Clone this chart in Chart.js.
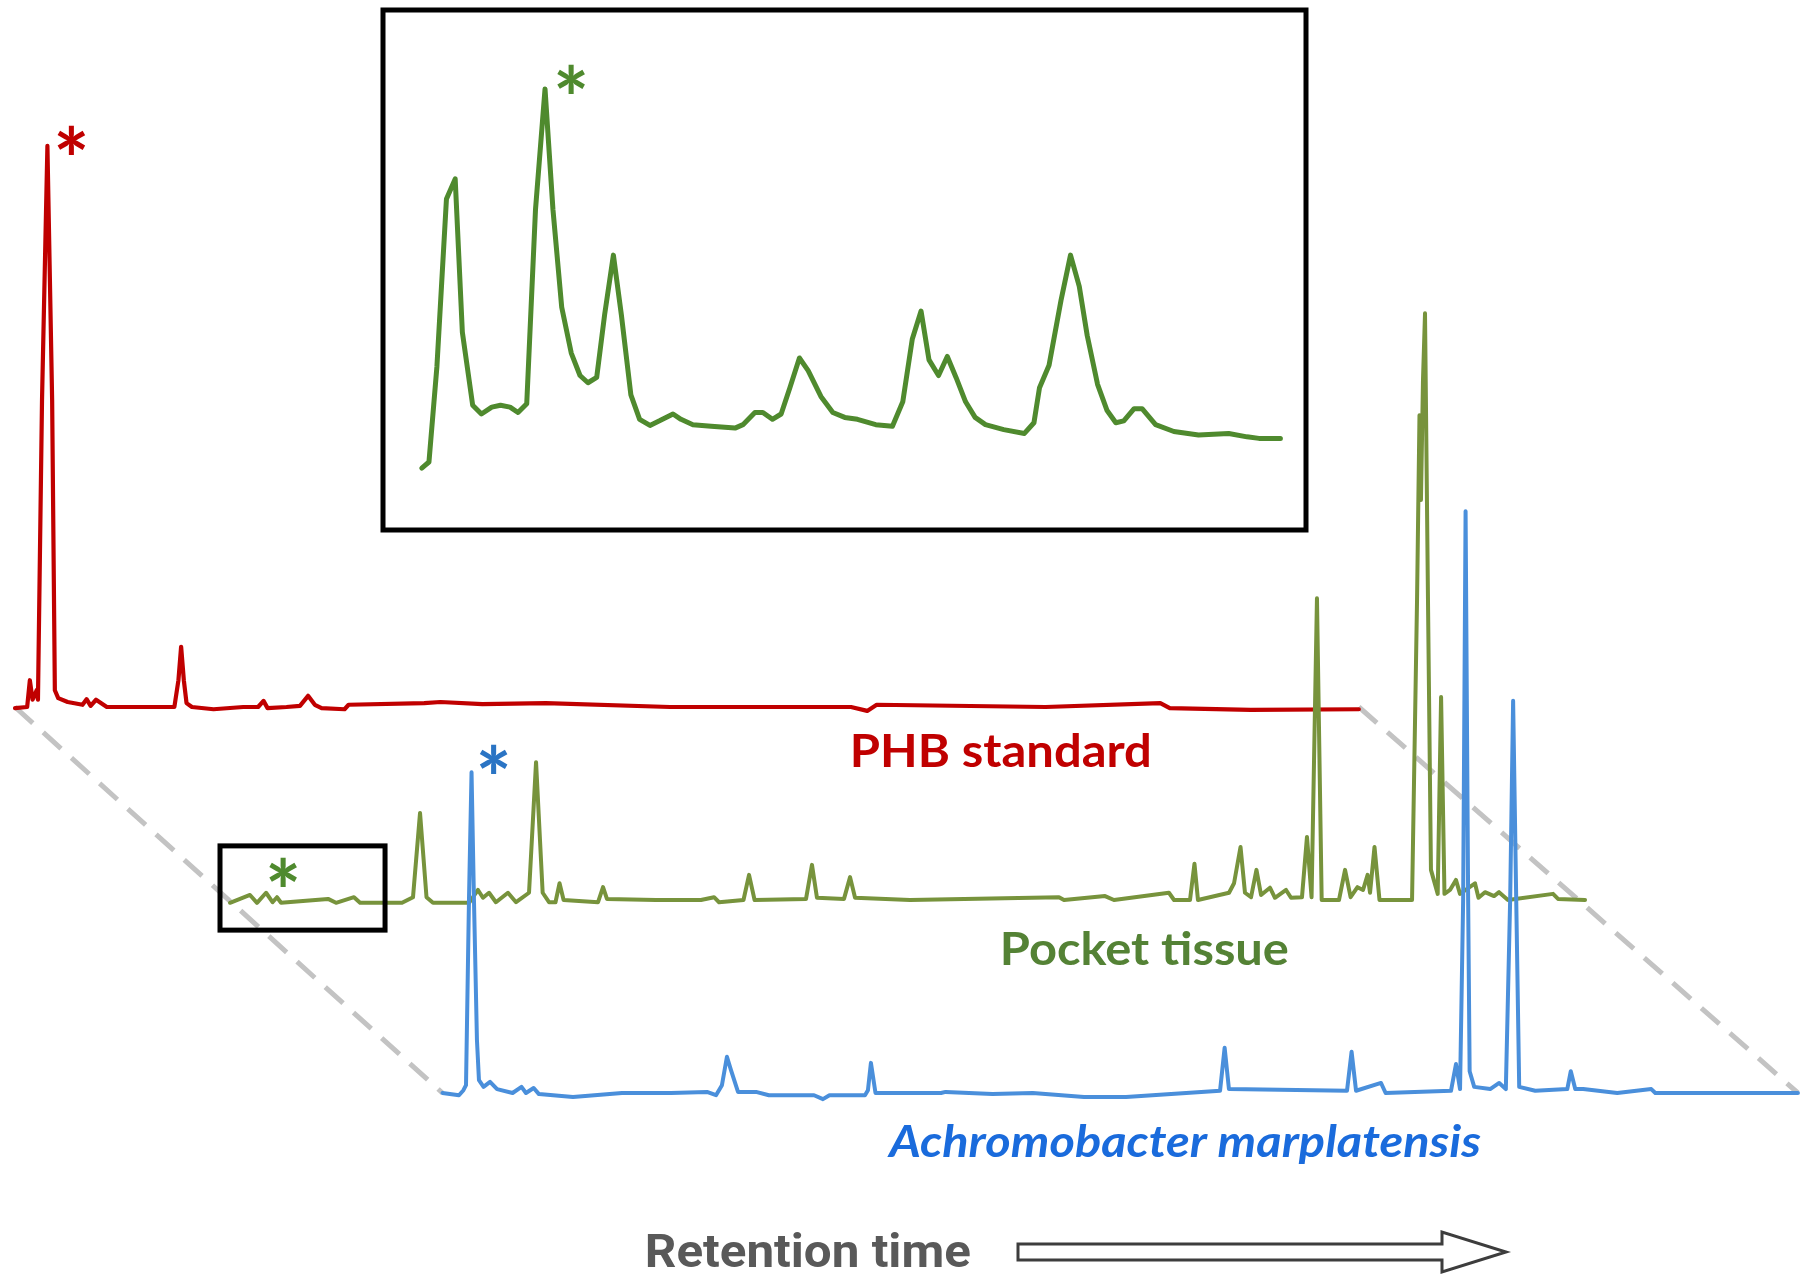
<!DOCTYPE html>
<html>
<head>
<meta charset="utf-8">
<script src="https://cdn.jsdelivr.net/npm/chart.js@4.4.1/dist/chart.umd.min.js"></script>
<style>
    html, body { margin: 0; padding: 0; background: #fff; overflow: hidden; }
    canvas { display: block; }
</style>
</head>
<body>
<canvas id="chromatogram" width="1807" height="1283"></canvas>
<script>
// retention time (arbitrary units, 0-100) and relative signal (largest PHB peak ~ 100)
const PHB_TIME = [0, 0.9, 1.1, 1.3, 1.6, 1.7, 2.0, 2.4, 2.75, 2.95, 3.2, 3.9, 5.0, 5.3, 5.6, 6.0, 6.8,
    11.8, 12.1, 12.3, 12.5, 12.7, 13.1, 14.7, 16.9, 18.0, 18.4, 18.7, 20.1, 21.1, 21.7, 22.2, 22.7,
    24.4, 24.7, 30.3, 31.5, 34.6, 39.3, 48.5, 61.9, 63.1, 63.8, 76.3, 84.8, 85.5, 91.5, 99.5];
const PHB_SIGNAL = [-0.2, 0, 4.8, 1.3, 3.0, 1.3, 55.0, 100.6, 55.0, 3.0, 1.6, 0.9, 0.4, 1.4, 0.2, 1.3, 0,
    0, 4.8, 10.8, 4.8, 0.7, 0, -0.4, 0, 0, 1.1, -0.2, 0, 0.2, 2.0, 0.4, -0.2,
    -0.4, 0.4, 0.7, 0.9, 0.5, 0.7, 0, 0, -0.7, 0.4, 0, 0.7, -0.2, -0.5, -0.4];

const POCKET_TIME = [0, 1.48, 2.0, 2.67, 3.15, 3.48, 3.78, 7.26, 7.85, 9.18,
    9.63, 12.74, 13.55, 14.07, 14.55, 15.03, 17.7, 18.36, 18.73, 19.18,
    19.69, 20.58, 21.18, 22.14, 22.66, 23.15, 23.62, 24.1, 24.4, 24.7,
    27.25, 27.62, 27.91, 31.54, 34.87, 35.84, 36.21, 38.02, 38.43, 38.84,
    42.65, 43.09, 43.46, 45.46, 45.91, 46.28, 50.35, 61.38, 61.75, 64.79,
    65.45, 69.52, 69.9, 71.08, 71.41, 71.67, 73.97, 74.34, 74.82, 75.15,
    75.6, 76.0, 76.34, 77.0, 77.37, 78.19, 78.56, 79.37, 79.74, 80.08,
    80.48, 80.83, 82.11, 82.56, 82.97, 83.48, 83.89, 84.23, 84.41, 84.74,
    85.11, 87.52, 87.89, 88.07, 88.18, 88.33, 88.48, 88.7, 88.92, 89.42,
    89.67, 89.92, 90.33, 90.77, 91.07, 92.18, 92.44, 92.92, 93.59, 93.96,
    94.62, 97.96, 98.33, 100.33];
const POCKET_SIGNAL = [-0.5, 0.9, -0.5, 1.3, -0.4, 0.5, -0.5, 0.2, -0.5, 0.5,
    -0.5, -0.5, 0.5, 15.6, 0.5, -0.5, -0.5, 1.8, 0.4, 1.3,
    -0.4, 1.3, -0.4, 1.3, 24.7, 1.3, -0.4, -0.4, 3.0, 0,
    -0.4, 2.3, 0.2, 0, 0, 0.5, -0.4, 0, 4.5, 0,
    0.2, 6.3, 0.4, 0.2, 4.1, 0.4, 0, 0.5, 0, 0.7,
    0, 1.3, 0, 0, 6.5, 0, 1.3, 3.0, 9.5, 1.3,
    0.5, 5.4, 0.9, 2.2, 0.4, 1.8, 0.4, 0.5, 11.3, 0.5,
    54.1, 0, 0, 5.4, 0.5, 2.3, 1.8, 4.5, 1.3, 9.5,
    0, 0, 53.8, 86.9, 71.7, 93.2, 105.2, 53.8, 5.4, 1.1,
    36.4, 1.1, 1.8, 3.6, 1.1, 3.0, 0.4, 1.4, 0.7, 1.4,
    0, 1.1, 0.2, 0];

const ACHROMO_TIME = [0, 1.22, 1.55, 1.74, 1.96, 2.15, 2.33, 2.55, 2.70, 3.04,
    3.52, 4.04, 5.19, 5.85, 6.18, 6.75, 7.14, 9.66, 13.29, 16.92,
    19.58, 20.25, 20.69, 21.06, 21.36, 21.88, 23.21, 24.17, 27.51, 28.17,
    28.65, 31.28, 31.5, 31.72, 32.06, 36.91, 37.25, 40.72, 43.7, 47.5,
    50.61, 57.57, 57.91, 58.23, 66.97, 67.31, 67.64, 69.49, 69.83, 74.67,
    75.04, 75.34, 75.57, 75.75, 75.94, 76.05, 76.39, 77.57, 78.24, 78.73,
    79.05, 79.27, 79.5, 79.72, 80.91, 83.28, 83.54, 83.87, 84.46, 86.98,
    89.5, 89.8, 100.36];
const ACHROMO_SIGNAL = [0, -0.4, 0.5, 1.4, 34.6, 57.5, 34.6, 9.5, 2.3, 1.1,
    2.0, 0.7, 0, 1.1, 0, 0.9, -0.2, -0.7, 0, 0,
    0.2, -0.4, 1.4, 6.5, 4.1, 0.2, 0.2, -0.4, -0.4, -1.1,
    -0.4, -0.4, 0.5, 5.4, 0, 0, 0.2, -0.2, 0, -0.7,
    -0.7, 0.4, 8.1, 0.7, 0.4, 7.4, 0.4, 1.8, 0, 0.4,
    5.2, 0.7, 34.6, 104.3, 34.6, 3.9, 1.1, 0.7, 1.8, 0.7,
    34.6, 70.3, 34.6, 1.1, 0.4, 0.7, 3.9, 0.7, 0.7, 0,
    0.7, 0, 0];

// enlarged start of the pocket tissue run (inset)
const INSET_TIME = [0, 0.09, 0.19, 0.31, 0.42, 0.51, 0.64, 0.75, 0.88, 0.99,
    1.11, 1.21, 1.32, 1.43, 1.55, 1.65, 1.76, 1.88, 1.99, 2.09,
    2.20, 2.30, 2.41, 2.51, 2.63, 2.74, 2.87, 2.99, 3.16, 3.26,
    3.41, 3.64, 3.94, 4.04, 4.19, 4.29, 4.41, 4.52, 4.63, 4.75,
    4.86, 5.02, 5.17, 5.32, 5.48, 5.71, 5.92, 6.05, 6.17, 6.28,
    6.38, 6.50, 6.61, 6.72, 6.84, 6.96, 7.09, 7.32, 7.58, 7.70,
    7.77, 7.89, 8.04, 8.16, 8.27, 8.37, 8.50, 8.62, 8.73, 8.83,
    8.96, 9.06, 9.23, 9.46, 9.77, 10.15, 10.38, 10.53, 10.80];
const INSET_SIGNAL = [0.5, 2.1, 27.1, 71.1, 76.4, 36.2, 17.0, 14.7, 16.5, 17.0,
    16.5, 15.1, 17.4, 68.3, 100, 68.3, 42.7, 30.7, 24.8, 22.9,
    24.3, 40.8, 56.4, 40.8, 19.7, 13.3, 11.7, 12.9, 14.7, 13.3,
    11.9, 11.5, 11.0, 11.9, 15.1, 15.1, 13.3, 14.7, 21.6, 29.4,
    26.1, 19.3, 15.1, 13.8, 13.3, 11.9, 11.5, 17.9, 34.4, 41.7,
    28.9, 24.8, 29.8, 24.3, 17.9, 13.8, 11.9, 10.6, 9.6, 12.4,
    21.6, 27.5, 44.5, 56.4, 48.2, 35.3, 22.5, 15.6, 12.4, 12.9,
    16.1, 16.1, 11.9, 10.1, 9.2, 9.6, 8.7, 8.3, 8.3];

const TRACE_LABELS = ['PHB standard', 'Pocket tissue', 'Achromobacter marplatensis'];
const AXIS_TITLE = 'Retention time';

// ---- layout (canvas pixels) ----
const W = 1807, H = 1283;
const PX_PER_TIME = 13.506, PX_PER_SIGNAL = 5.578;
const ORIGIN = { phb: [15, 707], pocket: [230, 900], achromo: [442.5, 1093], inset: [421.8, 470] };
const INSET_PX = [79.5, 3.81];
const INSET_BOX = { left: 383, top: 10, right: 1306, bottom: 530 };
const ZOOM_BOX = { t0: -0.74, t1: 11.48, v0: -5.4, v1: 9.7 };

const RED = '#c00000', OLIVE = '#77933c', DARK_GREEN = '#4f8a2e', BLUE = '#4a8fdb';

function xAxis(origin, ppu) {
    return { type: 'linear', display: false, min: -origin / ppu, max: (W - origin) / ppu };
}
function yAxis(origin, ppu) {
    return { type: 'linear', display: false, max: origin / ppu, min: (origin - H) / ppu };
}
function points(times, values) {
    return times.map((t, i) => ({ x: t, y: values[i] }));
}

function fitText(ctx, text, left, baseline, width, cap, font, color) {
    ctx.font = font.replace('SIZE', '100px');
    const size = 100 * cap / ctx.measureText('H').actualBoundingBoxAscent;
    ctx.font = font.replace('SIZE', size.toFixed(2) + 'px');
    const m = ctx.measureText(text);
    const w = m.actualBoundingBoxLeft + m.actualBoundingBoxRight;
    ctx.save();
    ctx.fillStyle = color;
    ctx.textBaseline = 'alphabetic';
    ctx.translate(left, baseline);
    ctx.scale(width / w, 1);
    ctx.fillText(text, m.actualBoundingBoxLeft, 0);
    ctx.restore();
}

function star(ctx, cx, cy, color) {
    ctx.save();
    ctx.font = 'bold 100px Lato';
    const m = ctx.measureText('*');
    const gh = m.actualBoundingBoxAscent + m.actualBoundingBoxDescent;
    const size = 100 * 29 / gh;
    ctx.font = 'bold ' + size.toFixed(2) + 'px Lato';
    const k = ctx.measureText('*');
    ctx.fillStyle = color;
    ctx.textAlign = 'center';
    ctx.textBaseline = 'alphabetic';
    ctx.fillText('*', cx, cy + (k.actualBoundingBoxAscent - k.actualBoundingBoxDescent) / 2);
    ctx.restore();
}

function peakPixel(chart, times, values, xId, yId, from, to) {
    let best = -1;
    times.forEach((t, i) => {
        if (t >= from && t <= to && (best < 0 || values[i] > values[best])) best = i;
    });
    return [chart.scales[xId].getPixelForValue(times[best]), chart.scales[yId].getPixelForValue(values[best])];
}

const decorations = {
    id: 'decorations',
    beforeDatasetsDraw(chart) {
        const ctx = chart.ctx, s = chart.scales;
        const px = (xId, yId, t, v) => [s[xId].getPixelForValue(t), s[yId].getPixelForValue(v)];
        const last = a => a[a.length - 1];
        const guides = [
            [px('xPhb', 'yPhb', PHB_TIME[0], 0), px('xAchromo', 'yAchromo', ACHROMO_TIME[0], 0)],
            [px('xPhb', 'yPhb', last(PHB_TIME), 0), px('xAchromo', 'yAchromo', last(ACHROMO_TIME), 0)]
        ];
        ctx.save();
        ctx.strokeStyle = '#c3c3c3';
        ctx.lineWidth = 5;
        ctx.setLineDash([24, 14]);
        guides.forEach(([a, b]) => {
            ctx.beginPath();
            ctx.moveTo(a[0], a[1]);
            ctx.lineTo(b[0], b[1]);
            ctx.stroke();
        });
        ctx.restore();
    },
    afterDatasetsDraw(chart) {
        const ctx = chart.ctx, s = chart.scales;

        // boxes
        ctx.save();
        ctx.strokeStyle = '#000';
        ctx.lineWidth = 5;
        ctx.strokeRect(INSET_BOX.left, INSET_BOX.top, INSET_BOX.right - INSET_BOX.left, INSET_BOX.bottom - INSET_BOX.top);
        const zx0 = s.xPocket.getPixelForValue(ZOOM_BOX.t0), zx1 = s.xPocket.getPixelForValue(ZOOM_BOX.t1);
        const zy0 = s.yPocket.getPixelForValue(ZOOM_BOX.v1), zy1 = s.yPocket.getPixelForValue(ZOOM_BOX.v0);
        ctx.strokeRect(zx0, zy0, zx1 - zx0, zy1 - zy0);
        ctx.restore();

        // PHB markers
        let p = peakPixel(chart, PHB_TIME, PHB_SIGNAL, 'xPhb', 'yPhb', 0, 5);
        star(ctx, p[0] + 24, p[1] - 6, RED);
        p = peakPixel(chart, ACHROMO_TIME, ACHROMO_SIGNAL, 'xAchromo', 'yAchromo', 0, 5);
        star(ctx, p[0] + 22, p[1] - 13, '#2a74c4');
        p = peakPixel(chart, POCKET_TIME, POCKET_SIGNAL, 'xPocket', 'yPocket', 0, 5);
        star(ctx, p[0] + 17, p[1] - 21, DARK_GREEN);
        p = peakPixel(chart, INSET_TIME, INSET_SIGNAL, 'xInset', 'yInset', 0, 11);
        star(ctx, p[0] + 26, p[1] - 10, DARK_GREEN);

        // labels
        fitText(ctx, TRACE_LABELS[0], 853, 767, 296, 33, 'bold SIZE Lato', RED);
        fitText(ctx, TRACE_LABELS[1], 1003, 965, 285, 34, 'bold SIZE Lato', '#548235');
        fitText(ctx, TRACE_LABELS[2], 887, 1157, 594, 32, 'italic bold SIZE Lato', '#1a6bdc');
        fitText(ctx, AXIS_TITLE, 647, 1267, 323, 33, 'bold SIZE Roboto', '#595959');

        // hollow arrow
        ctx.save();
        ctx.beginPath();
        ctx.moveTo(1018, 1244);
        ctx.lineTo(1442, 1244);
        ctx.lineTo(1442, 1232);
        ctx.lineTo(1506, 1252);
        ctx.lineTo(1442, 1272);
        ctx.lineTo(1442, 1260);
        ctx.lineTo(1018, 1260);
        ctx.closePath();
        ctx.fillStyle = '#fff';
        ctx.fill();
        ctx.lineWidth = 3;
        ctx.lineJoin = 'miter';
        ctx.strokeStyle = '#3d3d3d';
        ctx.stroke();
        ctx.restore();
    }
};

const lineStyle = { pointRadius: 0, tension: 0, borderJoinStyle: 'round', borderCapStyle: 'round', fill: false };

new Chart(document.getElementById('chromatogram'), {
    type: 'line',
    data: {
        datasets: [
            { ...lineStyle, label: TRACE_LABELS[2], data: points(ACHROMO_TIME, ACHROMO_SIGNAL),
              borderColor: BLUE, borderWidth: 4, xAxisID: 'xAchromo', yAxisID: 'yAchromo', order: 1 },
            { ...lineStyle, label: TRACE_LABELS[1], data: points(POCKET_TIME, POCKET_SIGNAL),
              borderColor: OLIVE, borderWidth: 4, xAxisID: 'xPocket', yAxisID: 'yPocket', order: 2 },
            { ...lineStyle, label: TRACE_LABELS[0], data: points(PHB_TIME, PHB_SIGNAL),
              borderColor: RED, borderWidth: 4.2, xAxisID: 'xPhb', yAxisID: 'yPhb', order: 3 },
            { ...lineStyle, label: 'inset', data: points(INSET_TIME, INSET_SIGNAL),
              borderColor: DARK_GREEN, borderWidth: 5, xAxisID: 'xInset', yAxisID: 'yInset', order: 0 }
        ]
    },
    options: {
        responsive: false,
        animation: false,
        events: [],
        layout: { padding: 0 },
        plugins: { legend: { display: false }, tooltip: { enabled: false } },
        scales: {
            xPhb: xAxis(ORIGIN.phb[0], PX_PER_TIME),
            yPhb: yAxis(ORIGIN.phb[1], PX_PER_SIGNAL),
            xPocket: xAxis(ORIGIN.pocket[0], PX_PER_TIME),
            yPocket: yAxis(ORIGIN.pocket[1], PX_PER_SIGNAL),
            xAchromo: xAxis(ORIGIN.achromo[0], PX_PER_TIME),
            yAchromo: yAxis(ORIGIN.achromo[1], PX_PER_SIGNAL),
            xInset: xAxis(ORIGIN.inset[0], INSET_PX[0]),
            yInset: yAxis(ORIGIN.inset[1], INSET_PX[1])
        }
    },
    plugins: [decorations]
});
</script>
</body>
</html>
